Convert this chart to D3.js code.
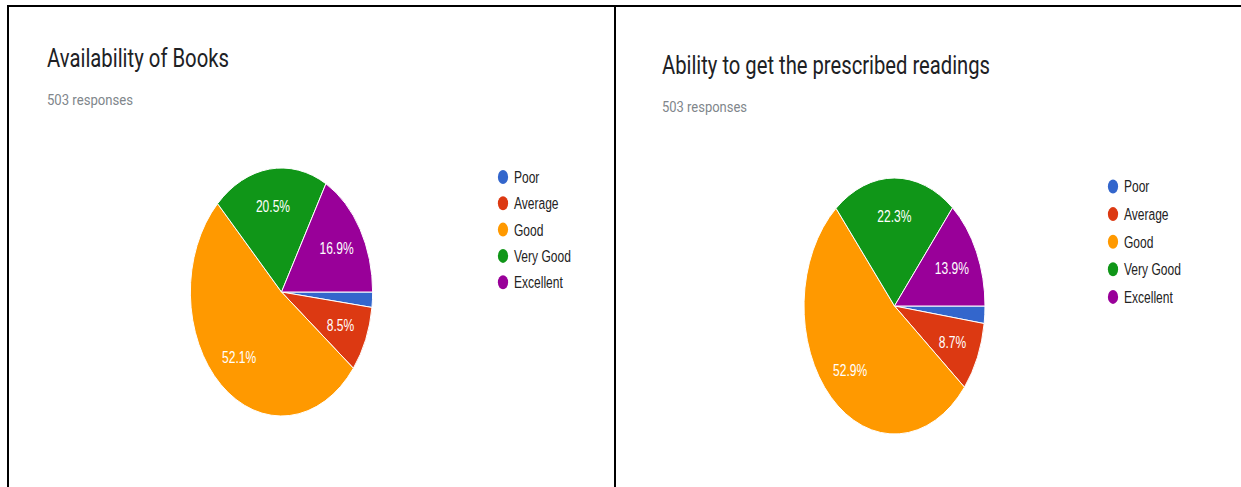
<!DOCTYPE html>
<html>
<head>
<meta charset="utf-8">
<script src="https://cdn.jsdelivr.net/npm/d3@7"></script>
<style>
  body { margin: 0; background: #fff; }
  svg { display: block; }
</style>
</head>
<body>
<svg id="chart" width="1241" height="487"></svg>
<script>
// survey answers, same categories for both charts
var categories = ["Poor", "Average", "Good", "Very Good", "Excellent"];
var colors = ["#3366cc", "#dc3912", "#ff9900", "#109618", "#990099"];

var titles = ["Availability of Books", "Ability to get the prescribed readings"];
var responses = [503, 503];

// response counts (out of 503) read from the percentages
var booksCounts = [10, 43, 262, 103, 85];
var readingsCounts = [11, 44, 266, 112, 70];

// layout of each panel (picture is squeezed sideways, kx)
var panels = [
  {title: titles[0], n: responses[0], counts: booksCounts,
   tx: 47, ty: 67, tw: 182, sy: 105, sw: 86,
   cx: 281.5, cy: 292, r: 124, kx: 0.735,
   lx: 503, ly: 177, lstep: 26.3},
  {title: titles[1], n: responses[1], counts: readingsCounts,
   tx: 662, ty: 74, tw: 328, sy: 112, sw: 85,
   cx: 894.5, cy: 306, r: 128, kx: 0.707,
   lx: 1113, ly: 186.5, lstep: 27.6}
];
var kx = 0.73;

var svg = d3.select("#chart");

// frame lines
svg.append("line").attr("x1", 8).attr("y1", 6).attr("x2", 1241).attr("y2", 6)
  .attr("stroke", "#000").attr("stroke-width", 2);
svg.append("line").attr("x1", 8).attr("y1", 5).attr("x2", 8).attr("y2", 487)
  .attr("stroke", "#000").attr("stroke-width", 2);
svg.append("line").attr("x1", 615).attr("y1", 5).attr("x2", 615).attr("y2", 487)
  .attr("stroke", "#000").attr("stroke-width", 2);

var drawPanel = function(p){
  let g = svg.append("g");

  g.append("text")
    .attr("x", p.tx).attr("y", p.ty)
    .attr("textLength", p.tw).attr("lengthAdjust", "spacingAndGlyphs")
    .style("font-family", "Roboto, sans-serif")
    .style("font-size", "26px")
    .attr("fill", "#202124")
    .text(p.title);

  g.append("text")
    .attr("x", p.tx).attr("y", p.sy)
    .attr("textLength", p.sw).attr("lengthAdjust", "spacingAndGlyphs")
    .style("font-family", "Roboto, sans-serif")
    .style("font-size", "15px")
    .attr("fill", "#80868b")
    .text(p.n + " responses");

  let total = d3.sum(p.counts);
  let pie = d3.pie().sort(null)
    .startAngle(Math.PI / 2).endAngle(Math.PI / 2 + 2 * Math.PI);
  let arcs = pie(p.counts);
  let arc = d3.arc().innerRadius(0).outerRadius(p.r);
  let labelArc = d3.arc().innerRadius(p.r * 0.7).outerRadius(p.r * 0.7);

  let pg = g.append("g")
    .attr("transform", "translate(" + p.cx + "," + p.cy + ") scale(" + p.kx + ",1)");

  pg.selectAll("path").data(arcs).enter().append("path")
    .attr("d", arc)
    .attr("fill", (d, i) => colors[i])
    .attr("stroke", "#fff")
    .attr("stroke-width", 1)
    .attr("vector-effect", "non-scaling-stroke");

  pg.selectAll("text").data(arcs.filter(d => d.value / total > 0.05)).enter().append("text")
    .attr("transform", d => "translate(" + labelArc.centroid(d) + ") scale(" + (kx / p.kx) + ",1)")
    .attr("text-anchor", "middle")
    .attr("dy", "0.36em")
    .style("font-family", "'Liberation Sans', Arial, sans-serif")
    .style("font-size", "16.5px")
    .attr("fill", "#fff")
    .text(d => (100 * d.value / total).toFixed(1) + "%");

  // legend
  let lg = g.selectAll("g.leg").data(categories).enter().append("g")
    .attr("transform", (d, i) => "translate(" + p.lx + "," + (p.ly + i * p.lstep) + ") scale(" + kx + ",1)");

  lg.append("circle")
    .attr("r", 7)
    .attr("fill", (d, i) => colors[i]);

  lg.append("text")
    .attr("x", 15)
    .attr("dy", "0.36em")
    .style("font-family", "'Liberation Sans', Arial, sans-serif")
    .style("font-size", "16.5px")
    .attr("fill", "#222")
    .text(d => d);
};

panels.forEach(drawPanel);
</script>
</body>
</html>
